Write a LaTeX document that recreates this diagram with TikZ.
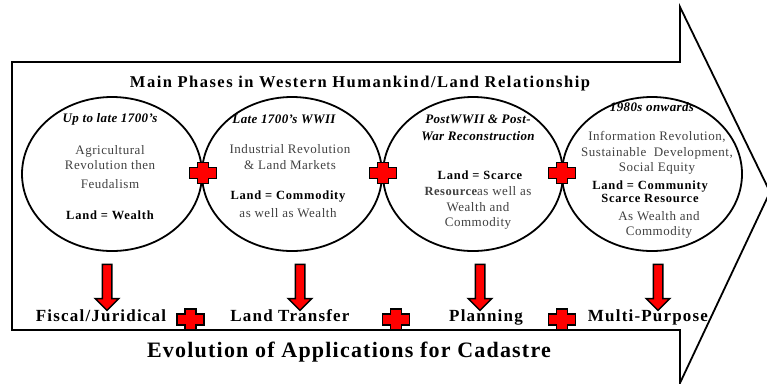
\documentclass[tikz,border=0pt]{standalone}
\usepackage{fontspec}
\setmainfont{Liberation Serif}
\usetikzlibrary{shapes.geometric,shapes.arrows}

\tikzset{
  phase/.style={ellipse, draw, line width=1.8pt, minimum width=180pt, minimum height=154pt, inner sep=0pt},
  era/.style={align=center, inner sep=0pt, font=\fontsize{13}{17}\selectfont\bfseries\itshape\addfontfeatures{LetterSpace=3}},
  body/.style={align=center, inner sep=0pt, text=black!75, font=\fontsize{13}{15.5}\selectfont\addfontfeatures{LetterSpace=4}},
  landeq/.style={align=center, inner sep=0pt, font=\fontsize{12.5}{13}\selectfont\bfseries\addfontfeatures{LetterSpace=6}},
  appl/.style={anchor=base, inner sep=0pt, font=\fontsize{17}{20}\selectfont\bfseries\addfontfeatures{LetterSpace=7}},
  downarrow/.style={single arrow, draw=black, fill=red, line width=1.5pt, shape border rotate=270,
    minimum height=46pt, inner sep=4pt, single arrow head extend=7pt},
  plus/.pic={
    \filldraw[fill=red, draw=black, line width=1.4pt]
      (-5.5,-10.5) -- (5.5,-10.5) -- (5.5,-5.5) -- (13.5,-5.5) -- (13.5,5.5) -- (5.5,5.5)
      -- (5.5,10.5) -- (-5.5,10.5) -- (-5.5,5.5) -- (-13.5,5.5) -- (-13.5,-5.5) -- (-5.5,-5.5) -- cycle;
  }
}

\begin{document}
\begin{tikzpicture}[x=1pt,y=-1pt]
    \useasboundingbox (0,0) rectangle (767,383);

    % big arrow outline
    \draw[line width=1.8pt] (12,62) -- (680,62) -- (680,7) -- (770,192) -- (680,383) -- (680,330) -- (12,330) -- cycle;

    \node[anchor=base, inner sep=0pt, font=\fontsize{16.5}{20}\selectfont\bfseries\addfontfeatures{LetterSpace=9}] (maintitle) at (360,87) {Main Phases in Western Humankind/Land Relationship};

    % the four phases
    \node[phase] (phaseA) at (112,174) {};
    \node[phase] (phaseB) at (292,174) {};
    \node[phase] (phaseC) at (473,174) {};
    \node[phase] (phaseD) at (652,174) {};

    \node[era] (eraA) at (110,119) {Up to late 1700's};
    \node[body] (txtA) at (110,167) {Agricultural\\Revolution then\\[3pt]Feudalism};
    \node[landeq] (eqA) at (110,215) {Land = Wealth};

    \node[era] (eraB) at (284,119) {Late 1700's WWII};
    \node[body] (txtB) at (290,157) {Industrial Revolution\\\& Land Markets};
    \node[landeq] (eqB) at (288,197) {Land = Commodity};
    \node[body] (restB) at (288,213) {as well as Wealth};

    \node[era] (eraC) at (478,128) {PostWWII \& Post-\\War Reconstruction};
    \node[landeq] (eqC) at (480,175) {Land = Scarce};
    \node[body] (restC) at (478,208) {{\bfseries\fontsize{12.5}{13}\selectfont Resource}as well as\\Wealth and\\Commodity};

    \node[era] (eraD) at (652,107) {1980s onwards};
    \node[body] (txtD) at (657,153) {Information Revolution,\\Sustainable\ \ Development,\\Social Equity};
    \node[landeq] (eqD) at (650,191.5) {Land = Community\\Scarce Resource};
    \node[body] (restD) at (659,225) {As Wealth and\\Commodity};

    % links between phases
    \pic at (203,173) {plus};
    \pic at (383,173) {plus};
    \pic at (562,173) {plus};

    % applications
    \node[downarrow] (arrA) at (107,285) {};
    \node[downarrow] (arrB) at (300,285) {};
    \node[downarrow] (arrC) at (480,285) {};
    \node[downarrow] (arrD) at (658,285) {};

    \node[appl] (appA) at (101,321) {Fiscal/Juridical};
    \node[appl] (appB) at (290,321) {Land Transfer};
    \node[appl] (appC) at (486,321) {Planning};
    \node[appl] (appD) at (648,321) {Multi-Purpose};

    \pic at (190.5,319.5) {plus};
    \pic at (396,319.5) {plus};
    \pic at (562,319.5) {plus};

    \node[anchor=base, inner sep=0pt, font=\fontsize{22}{26}\selectfont\bfseries\addfontfeatures{LetterSpace=5.5}] (evotitle) at (349,357) {Evolution of Applications for Cadastre};
\end{tikzpicture}
\end{document}
